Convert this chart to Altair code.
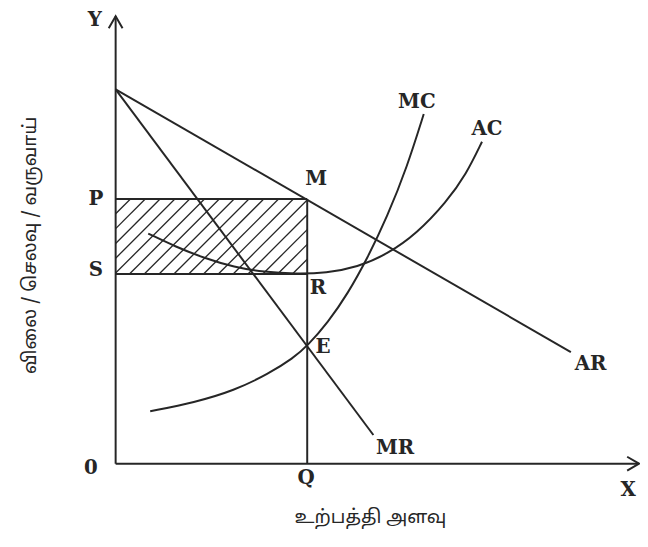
import altair as alt
import pandas as pd

# ---- data (economic diagram units) ----
ar_x = [0, 461]
ar_y = [379, 113]
mr_x = [0, 261]
mr_y = [379, 29]
mc_x = [35, 80, 120, 155, 180, 194, 215, 235, 255, 275, 295, 312]
mc_y = [53, 62, 74, 91, 107, 119, 143, 172, 208, 250, 300, 354]
ac_x = [33, 60, 90, 120, 150, 183, 213, 245, 275, 305, 335, 355, 371]
ac_y = [233, 220, 208, 199, 194, 192, 193, 199, 212, 233, 265, 293, 326]
p_level = 268
s_level = 192
q_output = 194
x_axis_end = 530
y_axis_end = 453

labels = ["Y", "0", "P", "S", "M", "R", "E", "MC", "AC", "AR", "MR", "Q", "X"]
label_x = [-21, -25, -20, -20, 203, 205, 210, 305, 376, 481, 283, 193, 519]
label_y = [449, -4, 268, 196, 288, 178, 118, 366, 339, 101, 16, -15, -27]

x_title = "உற்பத்தி அளவு"
y_title = "விலை / செலவு / வருவாய்"

INK = "#262626"

# ---- build tables ----
straight = []
def seg(name, xs, ys):
    for i, (a, b) in enumerate(zip(xs, ys)):
        straight.append({"id": name, "o": i, "x": a, "y": b})

seg("yaxis", [0, 0], [0, y_axis_end])
seg("xaxis", [0, x_axis_end], [0, 0])
seg("yarrow", [-7, 0, 7], [y_axis_end - 12, y_axis_end, y_axis_end - 12])
seg("xarrow", [x_axis_end - 12, x_axis_end, x_axis_end - 12], [7, 0, -7])
seg("AR", ar_x, ar_y)
seg("MR", mr_x, mr_y)
seg("P", [0, q_output], [p_level, p_level])
seg("S", [0, q_output], [s_level, s_level])
seg("Q", [q_output, q_output], [0, p_level])
df_straight = pd.DataFrame(straight)

# hatching of the profit rectangle (45 degree strokes)
hatch = []
h = p_level - s_level
step = 15
c = -h
k = 0
while c < q_output:
    x0 = max(0, c)
    x1 = min(q_output, c + h)
    if x1 > x0:
        hatch.append({"id": f"h{k}", "o": 0, "x": x0, "y": s_level + x0 - c})
        hatch.append({"id": f"h{k}", "o": 1, "x": x1, "y": s_level + x1 - c})
    c += step
    k += 1
df_hatch = pd.DataFrame(hatch)

curves = []
for i, (a, b) in enumerate(zip(mc_x, mc_y)):
    curves.append({"id": "MC", "o": i, "x": a, "y": b})
for i, (a, b) in enumerate(zip(ac_x, ac_y)):
    curves.append({"id": "AC", "o": i, "x": a, "y": b})
df_curves = pd.DataFrame(curves)

df_labels = pd.DataFrame({"t": labels, "x": label_x, "y": label_y})

xs = alt.Scale(domain=[-109, 531], nice=False, zero=False)
ys = alt.Scale(domain=[-81, 458], nice=False, zero=False)
X = lambda: alt.X("x:Q", scale=xs, axis=None)
Y = lambda: alt.Y("y:Q", scale=ys, axis=None)

lines = alt.Chart(df_straight).mark_line(color=INK, strokeWidth=2).encode(
    x=X(), y=Y(), detail="id:N", order="o:Q")
hatch_layer = alt.Chart(df_hatch).mark_line(color=INK, strokeWidth=1.3).encode(
    x=X(), y=Y(), detail="id:N", order="o:Q")
curve_layer = alt.Chart(df_curves).mark_line(color=INK, strokeWidth=2, interpolate="basis").encode(
    x=X(), y=Y(), detail="id:N", order="o:Q")
text_layer = alt.Chart(df_labels).mark_text(
    font="DejaVu Serif", fontWeight="bold", fontSize=20, color=INK,
    align="center", baseline="middle").encode(x=X(), y=Y(), text="t:N")

xt = alt.Chart(pd.DataFrame({"t": [x_title], "x": [258], "y": [-54]})).mark_text(
    font="Noto Sans Tamil, Noto Sans, sans-serif", fontSize=19, color=INK,
    align="center", baseline="middle").encode(x=X(), y=Y(), text="t:N")
yt = alt.Chart(pd.DataFrame({"t": [y_title], "x": [-87], "y": [221]})).mark_text(
    font="Noto Sans Tamil, Noto Sans, sans-serif", fontSize=19, color=INK, angle=270,
    align="center", baseline="middle").encode(x=X(), y=Y(), text="t:N")

chart = alt.layer(hatch_layer, lines, curve_layer, text_layer, xt, yt).properties(
    width=640, height=539, padding=0,
    autosize=alt.AutoSizeParams(type="none"),
    background="white",
).configure_view(stroke=None)

chart.save("out.html", embed_options={"renderer": "svg", "actions": False})
